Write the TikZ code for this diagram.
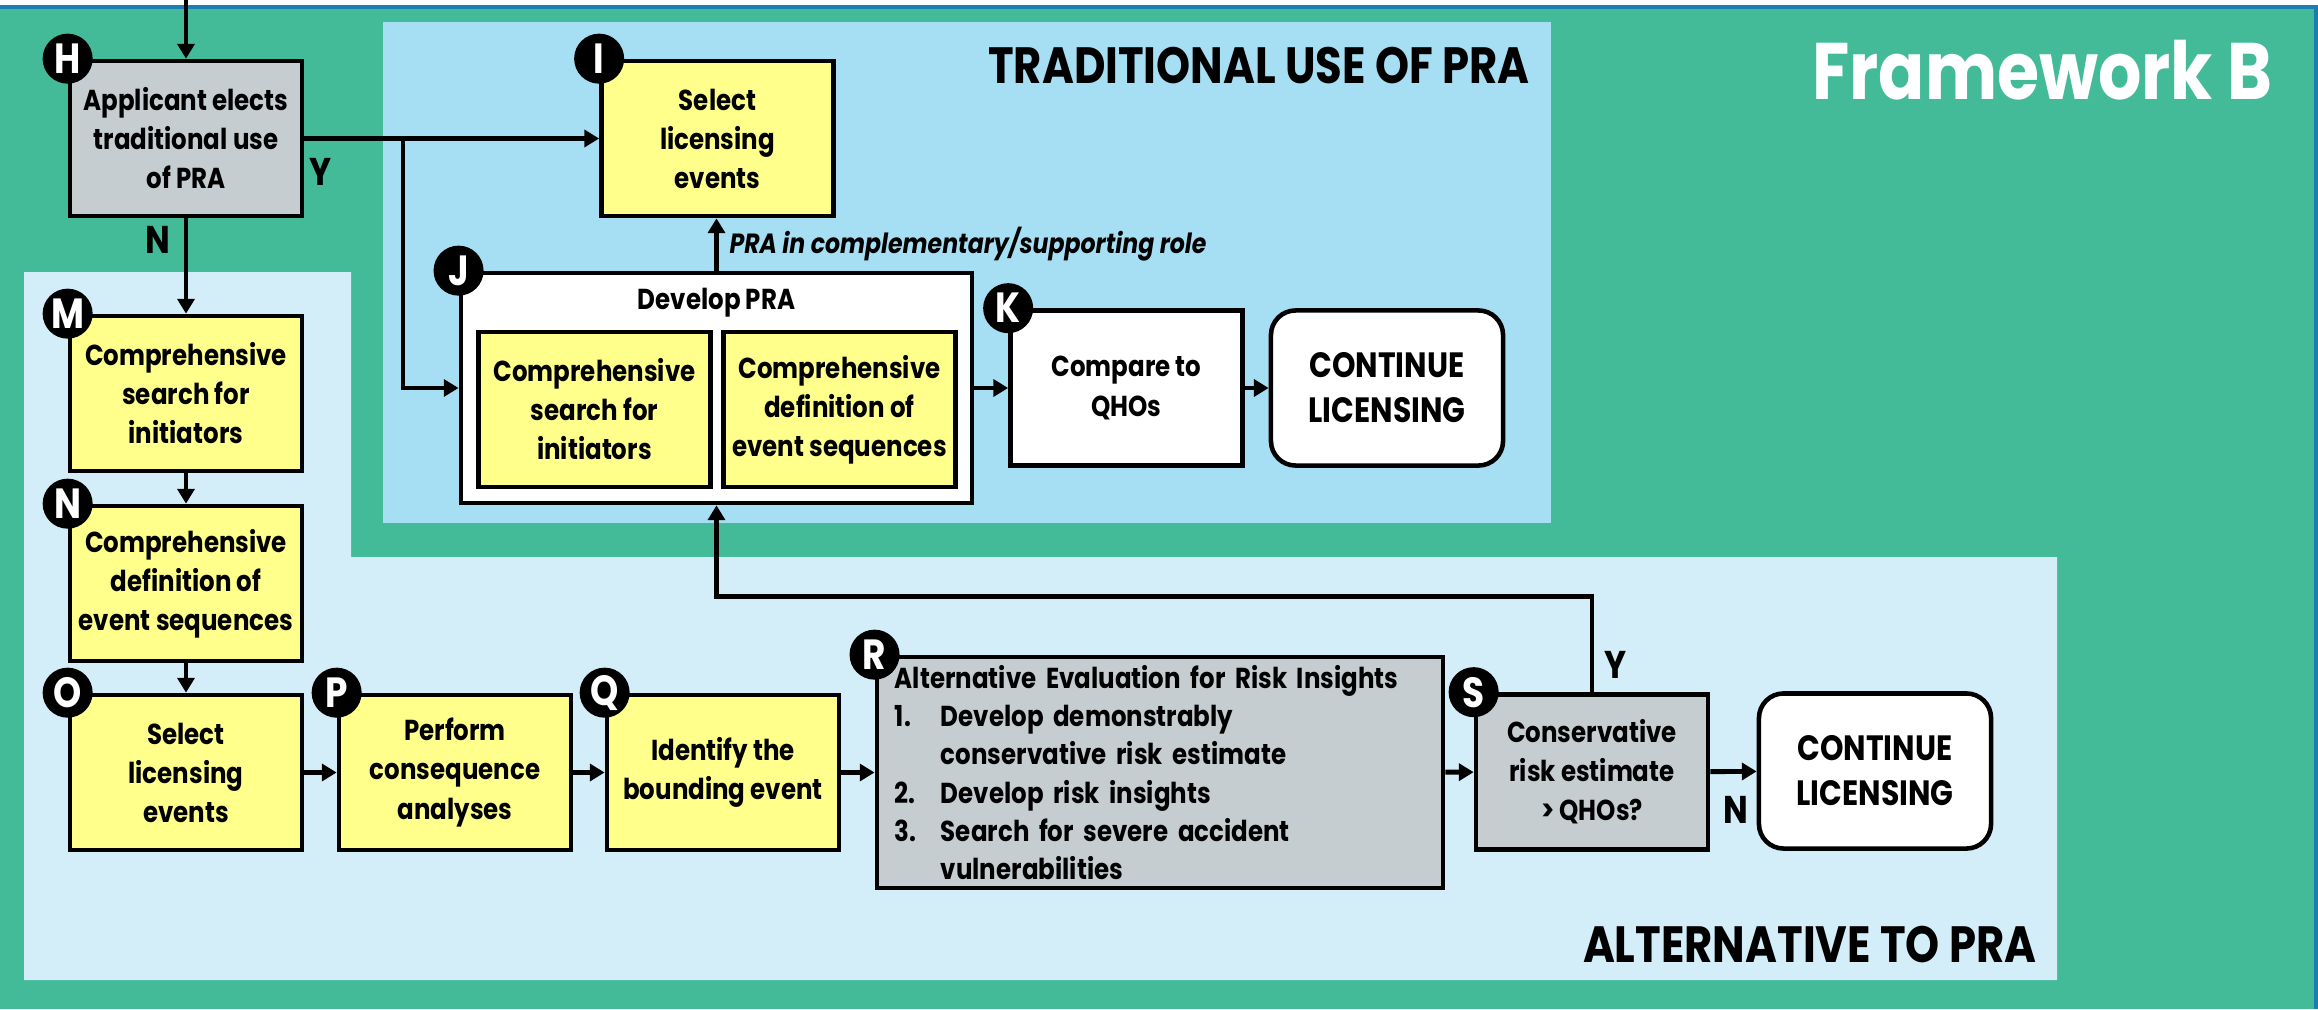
\documentclass[tikz,border=0pt]{standalone}
\usepackage{fontspec}
\setmainfont{Poppins}[FakeStretch=0.85]
\usepackage{tikz}
\usetikzlibrary{calc,positioning,arrows.meta,shapes}
\definecolor{bggreen}{HTML}{43BA98}
\definecolor{edgeblue}{HTML}{1A7FB0}
\definecolor{tradblue}{HTML}{A6DEF3}
\definecolor{altblue}{HTML}{D3EEF9}
\definecolor{boxyellow}{HTML}{FFFF8C}
\definecolor{boxgrey}{HTML}{C6CDD1}

\begin{document}
\begin{tikzpicture}[x=0.01cm, y=-0.01cm,
  tag/.style={circle, fill=black, text=white, inner sep=0pt, minimum size=0.5cm, font={\bfseries\fontsize{12}{12}\selectfont}},
  arr/.style={line width=1.4pt, -{Triangle[length=4.2pt,width=4.8pt]}},
  yn/.style={inner sep=0pt, font={\bfseries\fontsize{11}{11}\selectfont}},
  ttl/.style={anchor=east, inner sep=0pt, font={\bfseries\fontsize{14.5}{14.5}\selectfont}}]
\tikzstyle{box}=[draw, line width=1.3pt, fill=boxyellow, minimum width=2.32cm, minimum height=1.55cm, align=center, inner sep=1pt, font={\bfseries\fontsize{8.2}{11.1}\selectfont}]
\tikzstyle{endbox}=[box, fill=white, rounded corners=7pt, font={\bfseries\fontsize{10}{12.8}\selectfont}]
\useasboundingbox (0,0) rectangle (2318,1009);
% panels
\fill[white] (0,0) rectangle (2318,1009);
\fill[bggreen] (0,7) rectangle (2318,1009);
\draw[edgeblue, line width=1pt] (0,7) -- (2316,7) -- (2316,1009);
\fill[tradblue] (383,22) rectangle (1551,523);
\fill[altblue] (24,272) -- (351,272) -- (351,557) -- (2057,557) -- (2057,980) -- (24,980) -- cycle;
\node[ttl] (tradttl) at (1530,66) {TRADITIONAL USE OF PRA};
\node[ttl, text=white, font={\bfseries\fontsize{22.8}{22.8}\selectfont}] (fwttl) at (2273,70) {Framework B};
\node[ttl] (altttl) at (2037,945) {ALTERNATIVE TO PRA};
% boxes
\node[box, fill=boxgrey] (h) at (186,138.5) {Applicant elects\\traditional use\\of PRA};
\node[box] (i) at (717.5,138.5) {Select\\licensing\\events};
\node[box, fill=white, minimum width=5.11cm, minimum height=2.30cm] (j) at (716.5,388) {};
\node[inner sep=0pt, font={\bfseries\fontsize{8.2}{11.1}\selectfont}] (jttl) at (716.5,303) {Develop PRA};
\node[box] (j1) at (594.5,409.5) {Comprehensive\\search for\\initiators};
\node[box] (j2) at (839.5,409.5) {Comprehensive\\definition of\\event sequences};
\node[box, fill=white] (k) at (1126.5,388) {Compare to\\QHOs};
\node[endbox] (c1) at (1387,388) {CONTINUE\\LICENSING};
\node[box] (m) at (186,393.5) {Comprehensive\\search for\\initiators};
\node[box] (n) at (186,583.5) {Comprehensive\\definition of\\event sequences};
\node[box] (o) at (186,772.5) {Select\\licensing\\events};
\node[box] (p) at (455,772.5) {Perform\\consequence\\analyses};
\node[box] (q) at (723,772.5) {Identify the\\bounding event};
\node[box, fill=boxgrey, minimum width=5.66cm, minimum height=2.31cm, text width=5.3cm, align=left, font={\bfseries\fontsize{8.2}{10.9}\selectfont\hyphenpenalty=10000}] (r) at (1160,772.5) {Alternative Evaluation for Risk Insights\\
\makebox[0.46cm][l]{1.}Develop demonstrably\\
\hspace*{0.46cm}conservative risk estimate\\
\makebox[0.46cm][l]{2.}Develop risk insights\\
\makebox[0.46cm][l]{3.}Search for severe accident\\
\hspace*{0.46cm}vulnerabilities};
\node[box, fill=boxgrey] (s) at (1592,772) {Conservative\\risk estimate\\> QHOs?};
\node[endbox] (c2) at (1875,771) {CONTINUE\\LICENSING};
\foreach \b/\l in {h/H,i/I,j/J,k/K,m/M,n/N,o/O,p/P,q/Q,r/R,s/S}{\node[tag] (tag\b) at (\b.north west) {\l};}
% connectors
\coordinate (top) at (186,0);
\coordinate (split) at (403,138.5);
\draw[arr] (top) -- (h);
\draw[arr] (h) -- (i);
\draw[arr] (split) |- (j.west);
\draw[arr] (h) -- (m);
\foreach \a/\b in {m/n,n/o,o/p,p/q,q/r,r/s,j/k,k/c1,s/c2}{\draw[arr] (\a) -- (\b);}
\draw[arr] (j.north) -- (j.north |- i.south) node[midway, right, inner sep=3pt, font={\bfseries\itshape\fontsize{7.9}{10}\selectfont}] (role) {PRA in complementary/supporting role};
\draw[arr] (s.north) -- ++(0,-96) -| (j.south);
\node[yn] (yh) at (321,172) {Y};
\node[yn] (nh) at (158,240) {N};
\node[yn] (ys) at (1616,665) {Y};
\node[yn] (ns) at (1736,810) {N};
\end{tikzpicture}
\end{document}
